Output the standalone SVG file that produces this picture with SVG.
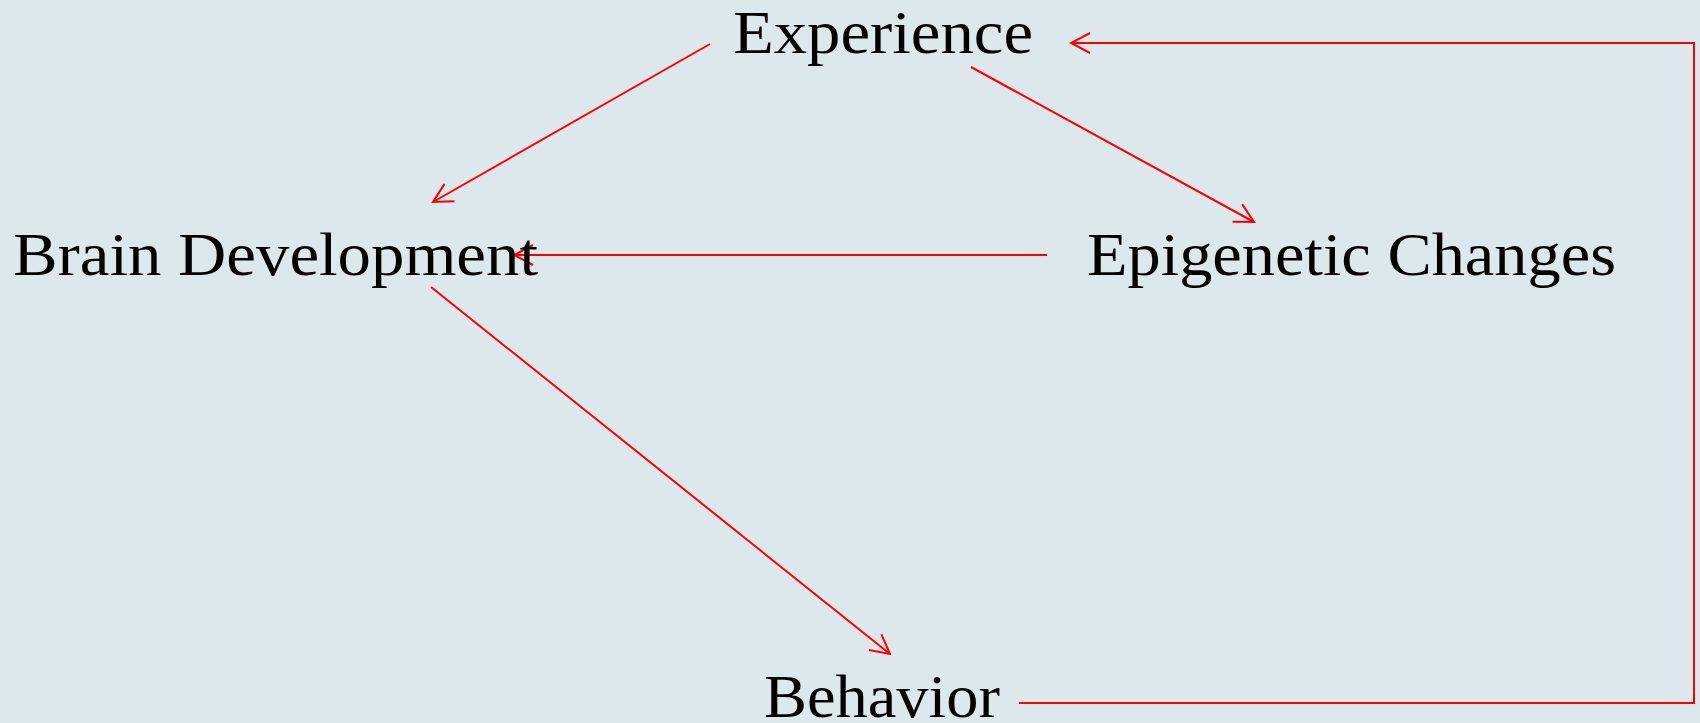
<svg xmlns="http://www.w3.org/2000/svg" width="1700" height="723" viewBox="0 0 1700 723">
<style>
.lbl{font-family:"Liberation Serif","Times New Roman",serif;font-size:62px;fill:#000}
.edge{stroke:#ff0000;stroke-width:2;fill:none}
</style>
<defs>
<marker id="arr" viewBox="-21 -12 23 24" refX="0" refY="0" markerWidth="23" markerHeight="24" markerUnits="userSpaceOnUse" orient="auto">
<path d="M-19,-10 L0,0 L-19,10" fill="none" stroke="#ff0000" stroke-width="2"/>
</marker>
</defs>
<rect x="0" y="0" width="1700" height="723" fill="#dde8ed"/>
<g id="connectors">
<line class="edge" x1="710" y1="44" x2="433" y2="202" marker-end="url(#arr)"/>
<line class="edge" x1="971" y1="67" x2="1254" y2="222" marker-end="url(#arr)"/>
<line class="edge" x1="1047" y1="255" x2="514" y2="255" marker-end="url(#arr)"/>
<line class="edge" x1="431" y1="287" x2="890" y2="654" marker-end="url(#arr)"/>
<polyline class="edge" points="1019,703 1694,703 1694,43 1071,43" marker-end="url(#arr)"/>
</g>
<g id="node-experience"><text class="lbl" x="733" y="53" textLength="300" lengthAdjust="spacingAndGlyphs">Experience</text></g>
<g id="node-brain"><text class="lbl" x="13" y="275" textLength="525" lengthAdjust="spacingAndGlyphs">Brain Development</text></g>
<g id="node-epigenetic"><text class="lbl" x="1087" y="275" textLength="529" lengthAdjust="spacingAndGlyphs">Epigenetic Changes</text></g>
<g id="node-behavior"><text class="lbl" x="764" y="717" textLength="236" lengthAdjust="spacingAndGlyphs">Behavior</text></g>
</svg>
